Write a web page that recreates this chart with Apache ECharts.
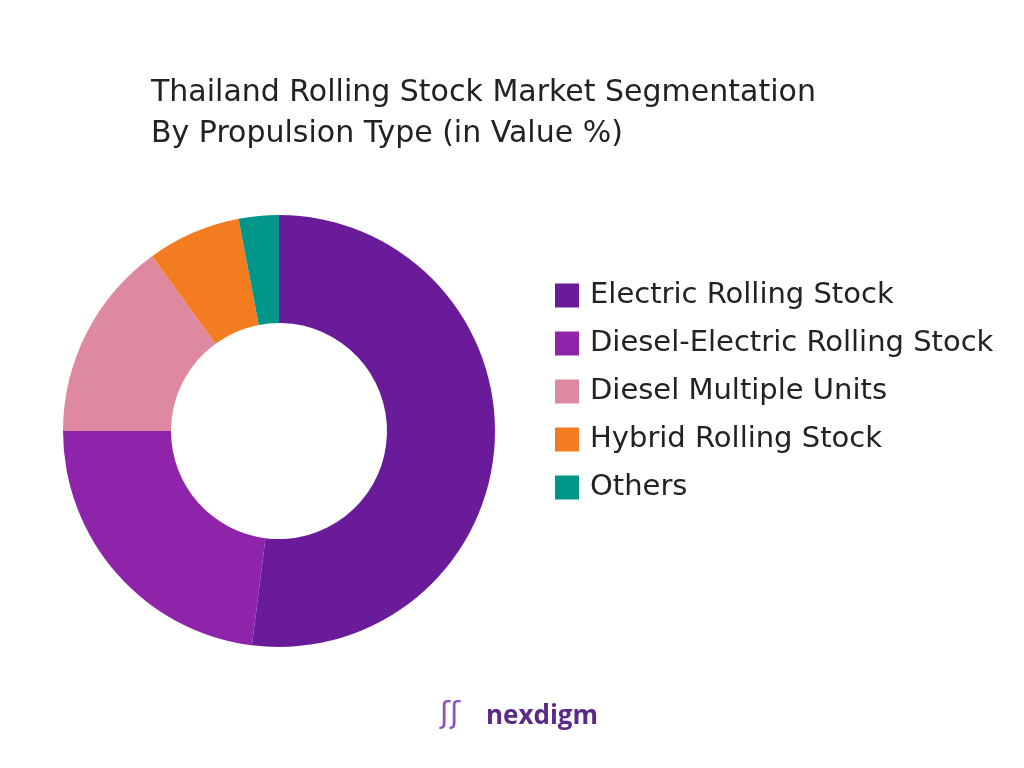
<!DOCTYPE html>
<html><head><meta charset="utf-8">
<script src="https://cdn.jsdelivr.net/npm/echarts@6/dist/echarts.min.js"></script>
<style>html,body{margin:0;background:#fff}#c{width:1024px;height:768px}</style>
</head><body><div id="c"></div>
<script>
var segments = ['Electric Rolling Stock', 'Diesel-Electric Rolling Stock', 'Diesel Multiple Units', 'Hybrid Rolling Stock', 'Others']
var shares = [52, 23, 15, 7, 3]
var colors = ['#6a1b9a', '#8e24aa', '#de89a0', '#f47c20', '#00968a']

var chart = echarts.init(document.getElementById('c'))
chart.setOption({
    animation: false,
    color: colors,
    title: {
        text: 'Thailand Rolling Stock Market Segmentation\nBy Propulsion Type (in Value %)',
        left: 146, top: 68,
        textStyle: {fontFamily: 'DejaVu Sans', fontSize: 30, fontWeight: 'normal', color: '#222', lineHeight: 41}
    },
    legend: {
        orient: 'vertical', left: 550, top: 276,
        itemWidth: 24, itemHeight: 24, itemGap: 19, icon: 'rect',
        textStyle: {fontFamily: 'DejaVu Sans', fontSize: 29, color: '#222', lineHeight: 24, padding: [0, 0, 0, 6]},
        data: segments
    },
    graphic: [{
        type: 'text', left: 486, top: 704,
        style: {text: 'nexdigm', fontFamily: 'Open Sans', fontSize: 26, fontWeight: 'bold', fill: '#5b2a86'}
    }, {
        type: 'text', left: 440, top: 700,
        style: {text: 'ʃʃ', fontFamily: 'DejaVu Sans', fontSize: 30, fill: '#8e4fc0'}
    }],
    series: [{
        type: 'pie', center: [279, 431], radius: [108, 216],
        startAngle: 90, clockwise: true,
        label: {show: false}, labelLine: {show: false},
        data: segments.map(function (s, i) { return {name: s, value: shares[i]} })
    }]
})
</script></body></html>
